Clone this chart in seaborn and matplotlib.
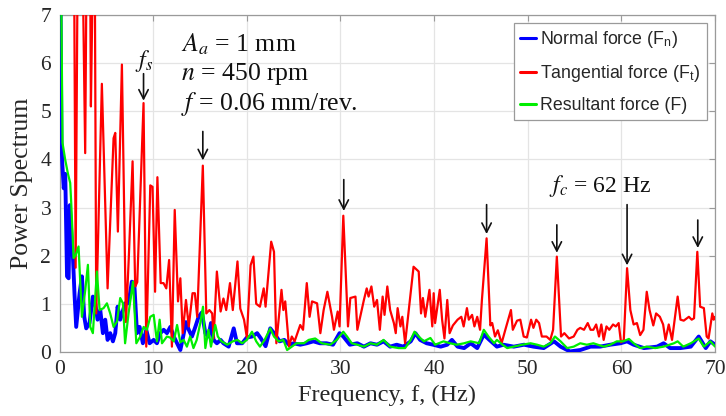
import numpy as np
import pandas as pd
import matplotlib
matplotlib.use("Agg")
import matplotlib.pyplot as plt
import seaborn as sns

# ---------------- data ----------------
red_f = [0.0, 0.3, 0.6, 0.9, 1.2, 1.45, 1.57, 1.72, 1.93, 2.1, 2.4, 2.74, 2.92, 3.1, 3.35, 3.56, 3.7, 3.92,
         4.52, 5.13, 5.77, 5.95, 6.23, 6.66, 7.09, 7.4, 7.8, 8.08, 8.3, 8.97, 9.26, 9.69, 9.93, 10.2, 10.45,
         10.8, 11.1, 11.4, 11.7, 12.0, 12.3, 12.65, 12.9, 13.15, 13.5, 13.8, 14.2, 14.45, 14.7, 15.3, 15.67,
         16.0, 16.3, 16.45, 16.8, 17.2, 17.5, 17.8, 18.2, 18.5, 19.0, 19.3, 19.7, 20.0, 20.4, 20.7, 21.0,
         21.4, 21.8, 22.0, 22.6, 22.9, 23.15, 23.7, 23.9, 24.1, 24.5, 24.8, 25.1, 25.7, 26.0, 26.4, 26.7,
         26.96, 27.5, 27.85, 28.2, 28.6, 29.1, 29.3, 29.7, 29.9, 30.3, 30.8, 31.05, 31.6, 31.8, 32.1, 32.5,
         32.8, 33.0, 33.3, 33.6, 33.9, 34.2, 34.5, 34.7, 35.0, 35.3, 35.7, 35.9, 36.1, 36.4, 36.6, 36.9,
         37.8, 38.35, 38.6, 38.8, 39.05, 39.5, 39.8, 39.95, 40.1, 40.6, 40.85, 41.1, 41.4, 41.65, 42.0, 42.5,
         42.9, 43.15, 43.5, 43.7, 44.05, 44.3, 44.6, 44.9, 45.1, 45.6, 46.0, 46.2, 46.5, 46.8, 47.2, 47.6,
         48.2, 48.4, 48.85, 49.2, 49.56, 49.9, 50.35, 50.6, 50.9, 51.2, 51.5, 52.0, 52.4, 52.7, 53.1, 53.55,
         53.9, 54.4, 54.9, 55.3, 55.6, 56.0, 56.4, 56.7, 57.0, 57.3, 57.6, 57.85, 58.1, 58.4, 58.7, 59.1,
         59.4, 59.7, 59.95, 60.25, 60.6, 60.95, 61.3, 61.65, 62.0, 62.35, 62.7, 63.0, 63.4, 63.7, 64.1,
         64.45, 64.7, 65.05, 65.4, 66.0, 66.3, 66.65, 67.2, 67.5, 67.75, 68.1, 68.4, 68.8, 69.1, 69.3,
         69.7, 69.85, 70.0]
red_v = [30, 45, 25, 38, 20, 12, 7.5, 1.75, 8, 12, 9, 4.13, 9, 14, 5.1, 8, 11, 0.8,
         5.57, 1.32, 4.44, 4.55, 2.5, 5.97, 0.62, 1.98, 3.96, 1.36, 1.45, 5.17, 0.11, 3.46, 3.43, 1.25, 3.63,
         1.43, 1.43, 1.32, 1.91, 0.11, 2.95, 1.05, 1.53, 0.39, 1.08, 0.53, 1.22, 1.22, 0.73, 3.87, 0.8,
         0.87, 0.8, 0.28, 1.67, 0.84, 1.11, 0.87, 1.43, 0.87, 1.88, 0.9, 0.67, 0.3, 1.8, 1.98, 1.0,
         0.94, 1.32, 0.94, 2.29, 2.08, 0.18, 1.29, 0.87, 1.05, 0.11, 0.32, 0.22, 0.56, 0.46, 1.43, 0.73,
         1.05, 1.01, 0.39, 0.87, 1.25, 0.73, 0.46, 0.84, 0.53, 2.83, 0.53, 1.12, 1.15, 0.46, 0.73, 1.08,
         1.32, 1.15, 1.36, 0.94, 1.08, 0.46, 1.15, 0.77, 1.36, 0.87, 0.6, 0.39, 0.91, 0.53, 0.73, 0.18,
         1.77, 1.67, 0.8, 1.12, 0.73, 1.29, 0.53, 1.22, 0.6, 1.29, 0.67, 0.28, 1.08, 0.39, 0.55, 0.67,
         0.73, 0.53, 0.91, 0.67, 0.77, 0.53, 0.73, 0.46, 1.08, 2.36, 0.55, 0.6, 0.32, 0.45, 0.18, 0.46,
         0.87, 0.46, 0.65, 0.67, 0.32, 0.3, 0.67, 0.5, 0.67, 0.6, 0.32, 0.32, 0.25, 0.46, 1.98, 0.32,
         0.39, 0.28, 0.32, 0.46, 0.5, 0.46, 0.6, 0.46, 0.46, 0.57, 0.32, 0.57, 0.25, 0.53, 0.46, 0.57,
         0.53, 0.6, 0.2, 0.25, 1.74, 0.87, 0.57, 0.6, 0.35, 0.46, 1.25, 0.87, 0.55, 0.8, 0.73,
         0.57, 0.25, 0.57, 0.25, 1.15, 0.67, 0.65, 0.73, 0.67, 0.7, 2.08, 0.94, 0.91, 0.32, 0.28,
         0.8, 0.67, 0.73]

blue_f = [0.0, 0.1, 0.2, 0.3, 0.45, 0.61, 0.8, 0.97, 1.1, 1.32, 1.43, 1.6, 1.78, 2.14, 2.39, 2.64, 2.85, 3.2,
          3.56, 3.81, 4.06, 4.35, 4.63, 4.88, 5.13, 5.41, 5.7, 5.95, 6.2, 6.48, 6.75, 7.0, 7.37, 7.72, 7.98,
          8.27, 8.55, 8.9, 9.26, 9.62, 10.05, 10.4, 10.76, 11.12, 11.47, 11.83, 12.2, 12.55, 12.9, 13.2, 13.5,
          13.8, 14.14, 14.5, 14.85, 15.2, 15.57, 15.9, 16.17, 16.45, 16.8, 17.2, 17.5, 18.06, 18.6, 18.95,
          19.5, 20.0, 20.55, 21.1, 21.5, 22.0, 22.5, 22.9, 23.5, 24.0, 24.5, 25.0, 25.7, 26.4, 27.1, 27.8,
          28.5, 29.2, 29.9, 30.3, 31.0, 31.8, 32.5, 33.2, 33.9, 34.6, 35.3, 36.0, 36.7, 37.5, 38.0, 38.5,
          39.2, 39.9, 40.7, 41.4, 41.9, 42.5, 43.2, 43.9, 44.6, 45.3, 45.9, 46.7, 47.4, 48.5, 49.6, 50.6,
          51.7, 52.8, 53.5, 54.5, 55.6, 56.7, 57.7, 58.8, 59.9, 60.6, 61.3, 62.4, 63.8, 64.5, 65.2, 66.3,
          67.4, 68.25, 69.0, 69.5, 70.0]
blue_v = [8, 7.5, 4.4, 3.9, 3.4, 3.7, 1.57, 1.53, 3.05, 2.26, 1.98, 1.2, 0.52, 1.22, 1.57, 0.73, 0.49, 0.6,
          1.15, 1.01, 0.67, 0.87, 0.39, 0.67, 0.25, 0.39, 0.22, 0.39, 0.94, 0.67, 0.85, 1.01, 1.01, 1.46, 1.43,
          0.39, 0.52, 0.18, 0.46, 0.18, 0.25, 0.18, 0.39, 0.46, 0.39, 0.52, 0.32, 0.18, 0.04, 0.32, 0.62,
          0.46, 0.32, 0.52, 0.73, 0.82, 0.39, 0.32, 0.6, 0.25, 0.18, 0.25, 0.18, 0.11, 0.49, 0.18,
          0.18, 0.3, 0.32, 0.39, 0.28, 0.12, 0.49, 0.39, 0.22, 0.25, 0.15, 0.18, 0.15, 0.18, 0.22, 0.18,
          0.18, 0.15, 0.39, 0.32, 0.15, 0.18, 0.11, 0.18, 0.15, 0.22, 0.11, 0.15, 0.11, 0.22, 0.39, 0.25,
          0.18, 0.15, 0.11, 0.15, 0.25, 0.11, 0.08, 0.18, 0.08, 0.36, 0.25, 0.11, 0.15, 0.11, 0.15, 0.11,
          0.08, 0.22, 0.11, 0.01, 0.04, 0.11, 0.11, 0.15, 0.18, 0.22, 0.15, 0.08, 0.11, 0.18, 0.08, 0.08,
          0.11, 0.32, 0.08, 0.22, 0.15]

green_f = [0.0, 0.18, 0.32, 0.6, 0.9, 1.14, 1.25, 1.5, 1.7, 2.03, 2.39, 2.75, 3.03, 3.28, 3.56, 3.99, 4.28, 4.7,
           5.06, 5.41, 5.77, 6.13, 6.48, 6.77, 7.0, 7.37, 7.84, 8.2, 8.62, 8.98, 9.33, 9.69, 10.05, 10.4, 10.69,
           10.94, 11.47, 11.8, 12.2, 12.55, 12.9, 13.25, 13.6, 13.95, 14.3, 14.65, 15.03, 15.32, 15.57, 15.9,
           16.17, 16.63, 16.9, 17.3, 17.9, 18.5, 19.0, 19.5, 20.0, 20.55, 21.0, 21.4, 21.9, 22.5, 22.9, 23.4,
           23.9, 24.3, 24.8, 25.3, 26.1, 26.6, 27.3, 28.0, 28.9, 29.6, 30.3, 30.7, 31.2, 31.8, 32.5, 33.2,
           33.9, 34.6, 35.3, 36.2, 36.9, 37.5, 37.9, 38.35, 38.9, 39.6, 40.1, 41.0, 41.7, 42.4, 43.2, 43.9,
           44.8, 45.3, 45.8, 46.4, 46.7, 47.3, 47.8, 48.5, 49.4, 50.3, 51.0, 51.7, 52.4, 52.9, 53.5, 54.2,
           54.9, 55.6, 56.3, 57.0, 58.1, 58.8, 59.5, 60.2, 60.8, 61.3, 62.0, 62.7, 63.6, 64.5, 65.6, 66.0,
           66.6, 67.4, 68.25, 68.8, 69.5, 70.0]
green_v = [8, 7.5, 4.34, 4.0, 3.7, 3.51, 3.09, 1.95, 2.0, 2.19, 0.73, 1.29, 1.81, 0.52, 0.39, 1.67, 0.87, 0.91,
           1.01, 0.8, 0.52, 0.63, 1.12, 1.01, 0.18, 0.8, 1.46, 0.18, 0.32, 0.52, 0.46, 0.73, 0.77, 0.22, 0.67,
           0.18, 0.32, 0.3, 0.22, 0.56, 0.2, 0.25, 0.11, 0.32, 0.08, 0.25, 0.6, 0.94, 0.08, 0.46,
           0.11, 0.56, 0.32, 0.22, 0.15, 0.22, 0.25, 0.18, 0.25, 0.42, 0.22, 0.11, 0.25, 0.49, 0.32, 0.22,
           0.25, 0.04, 0.11, 0.18, 0.18, 0.25, 0.28, 0.18, 0.15, 0.25, 0.42, 0.32, 0.18, 0.15, 0.11, 0.18,
           0.15, 0.25, 0.11, 0.08, 0.08, 0.25, 0.42, 0.32, 0.22, 0.29, 0.15, 0.22, 0.18, 0.15, 0.18, 0.22,
           0.18, 0.46, 0.32, 0.18, 0.25, 0.15, 0.08, 0.11, 0.15, 0.18, 0.15, 0.11, 0.18, 0.32, 0.22, 0.08,
           0.11, 0.18, 0.15, 0.18, 0.11, 0.15, 0.22, 0.22, 0.27, 0.18, 0.08, 0.11, 0.08, 0.11, 0.18, 0.22,
           0.11, 0.18, 0.28, 0.11, 0.22, 0.11]

series_labels = [r"Normal force (F$_\mathregular{n}$)",
                 r"Tangential force (F$_\mathregular{t}$)",
                 r"Resultant force (F)"]

# peak annotations: (peak freq, arrow start value, arrow end value)
arrow_f = [8.97, 15.3, 30.35, 45.6, 53.1, 60.6, 68.15]
arrow_top = [5.78, 4.58, 3.58, 3.06, 2.64, 3.06, 2.74]
arrow_tip = [5.22, 3.98, 2.93, 2.45, 2.06, 1.80, 2.16]

x_ticks = [0, 10, 20, 30, 40, 50, 60, 70]
y_ticks = [0, 1, 2, 3, 4, 5, 6, 7]

# ---------------- style ----------------
sns.set_theme(style="white")
plt.rcParams["font.family"] = ["Liberation Serif", "DejaVu Serif"]
plt.rcParams["mathtext.fontset"] = "stix"

fig = plt.figure(figsize=(7.26, 4.16), dpi=100)
ax = fig.add_axes([0.082, 0.154, 0.903, 0.81])

df_b = pd.DataFrame({"f": blue_f, "v": blue_v})
df_r = pd.DataFrame({"f": red_f, "v": red_v})
df_g = pd.DataFrame({"f": green_f, "v": green_v})

sns.lineplot(data=df_b, x="f", y="v", color="#0000ff", lw=2.8, ax=ax, estimator=None,
             label=series_labels[0], zorder=3)
sns.lineplot(data=df_r, x="f", y="v", color="#ff0000", lw=1.6, ax=ax, estimator=None,
             label=series_labels[1], zorder=4)
sns.lineplot(data=df_g, x="f", y="v", color="#00ee00", lw=1.6, ax=ax, estimator=None,
             label=series_labels[2], zorder=5)

ax.set_xlim(0, 70)
ax.set_ylim(0, 7)
ax.set_xticks(x_ticks)
ax.set_yticks(y_ticks)
ax.grid(True, color="#e4e4e4", lw=0.9)
for s in ax.spines.values():
    s.set_color("#9a9a9a")
    s.set_linewidth(0.9)
ax.tick_params(direction="in", length=4, width=0.8, color="#9a9a9a",
               top=True, right=True, labelsize=15.5, labelcolor="#262626", pad=6)
ax.set_xlabel("Frequency, f, (Hz)", fontsize=17.5, color="#262626", labelpad=4)
ax.set_ylabel("Power Spectrum", fontsize=18.5, color="#262626", labelpad=5)

# parameter text
ax.text(13.0, 6.4, r"$A_a$ = 1 mm", fontsize=18.5, color="#111111", va="center", ha="left")
ax.text(13.0, 5.78, r"$n$ = 450 rpm", fontsize=18.5, color="#111111", va="center", ha="left")
ax.text(13.0, 5.15, r"$f$ = 0.06 mm/rev.", fontsize=18.5, color="#111111", va="center", ha="left")
ax.text(9.0, 6.05, r"$f_s$", fontsize=17, color="#111111", va="center", ha="center")
ax.text(57.7, 3.45, r"$f_c$ = 62 Hz", fontsize=17, color="#111111", va="center", ha="center")

for xf, yt, yb in zip(arrow_f, arrow_top, arrow_tip):
    ax.annotate("", xy=(xf, yb), xytext=(xf, yt),
                arrowprops=dict(arrowstyle="->,head_length=0.55,head_width=0.28",
                                color="#111111", lw=1.2, shrinkA=0, shrinkB=0), zorder=6)

leg = ax.legend(loc="upper right", frameon=True, fancybox=False,
                edgecolor="#9a9a9a", framealpha=1, handlelength=0.9, handletextpad=0.25,
                labelspacing=0.72, borderpad=0.35, borderaxespad=0.45,
                prop={"family": ["Liberation Sans", "DejaVu Sans"], "size": 12.8})
leg.get_frame().set_linewidth(0.9)
for h in leg.get_lines():
    h.set_linewidth(2.2)

fig.savefig("out.png", dpi=100)
